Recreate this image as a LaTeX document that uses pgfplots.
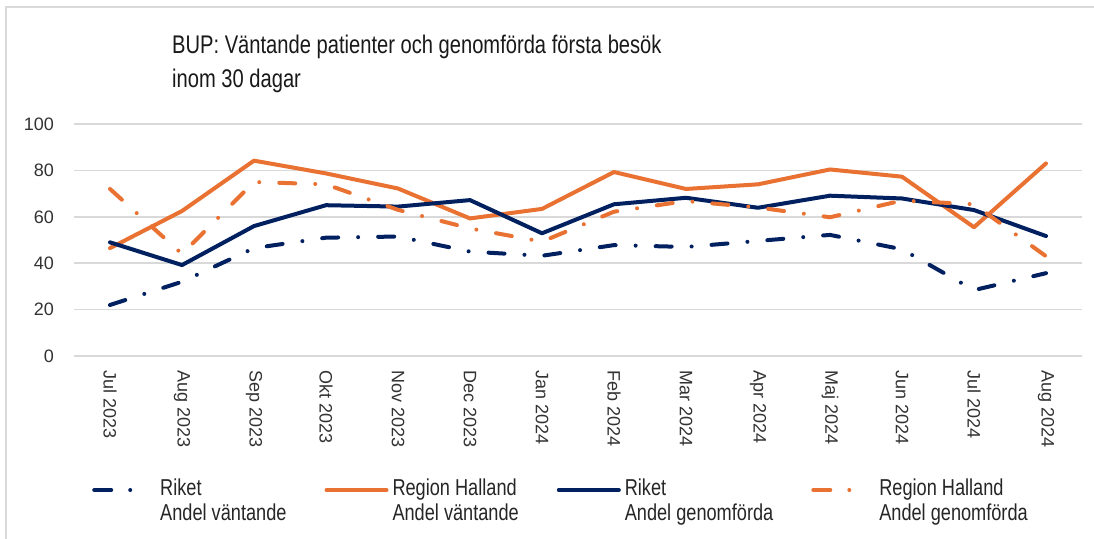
\documentclass[border=0pt]{standalone}
\usepackage{fontspec}
\setmainfont{Liberation Sans}
\newfontfamily\narrowfont[FakeStretch=0.79]{Liberation Sans}
\usepackage{pgfplots}
\pgfplotsset{compat=1.18}
\definecolor{hOrange}{HTML}{E97132}
\definecolor{hNavy}{HTML}{002060}
\definecolor{gridgray}{HTML}{D9D9D9}
\tikzset{
  dashdot/.style={dash pattern=on 16pt off 20pt on 0pt off 20pt},
  dashdotleg/.style={dash pattern=on 17pt off 19pt on 0pt off 80pt},
}

\begin{document}
\begin{tikzpicture}[x=1pt,y=1pt]
\useasboundingbox (0,0) rectangle (1094,-538);
\fill[white] (0,0) rectangle (1094,-538);
\draw[gridgray, line width=2pt] (6,-540) -- (6,-7) -- (1096,-7);
\node[anchor=base west, inner sep=0pt, font=\narrowfont\fontsize{25.5}{34}\selectfont, text=black!90] at (172,-53) {\vtop{\hbox{BUP: Väntande patienter och genomförda första besök}\hbox{inom 30 dagar}}};

\begin{axis}[
  at={(74pt,-356pt)}, anchor=south west,
  scale only axis, width=1008pt, height=232pt,
  xmin=-0.5, xmax=13.5, ymin=0, ymax=100,
  clip=false,
  axis line style={draw=none},
  major tick length=0pt,
  ytick={0,20,...,100},
  ymajorgrids,
  grid style={gridgray, line width=1.5pt},
  xtick={0,...,13},
  xticklabels={Jul 2023,Aug 2023,Sep 2023,Okt 2023,Nov 2023,Dec 2023,Jan 2024,Feb 2024,Mar 2024,Apr 2024,Maj 2024,Jun 2024,Jul 2024,Aug 2024},
  /pgf/number format/assume math mode=true,
  ticklabel style={font=\fontsize{18}{20}\selectfont, text=black!80},
  yticklabel style={anchor=east, inner sep=0pt, xshift=-20pt},
  xticklabel style={rotate=-90, anchor=west, inner sep=0pt, inner xsep=14pt},
  legend columns=4,
  legend style={draw=none, fill=none, inner sep=0pt,
    at={(axis description cs:0.0179,-0.52)}, anchor=north west,
    font=\narrowfont\fontsize{23}{25}\selectfont, text=black!85,
    cells={anchor=base west, inner sep=0pt},
    /tikz/every odd column/.append style={column sep=2pt},
    /tikz/every even column/.append style={column sep=36pt}},
  legend image code/.code={\draw[#1] (2pt,5.5pt) -- (62pt,5.5pt);},
  every axis plot/.append style={line width=4pt, line join=round, line cap=round},
]
\addlegendimage{hNavy, line width=4pt, line cap=round, dashdotleg}
\addlegendentry{\vtop{\hbox{Riket}\hbox{Andel väntande}}}
\addlegendimage{hOrange, line width=4pt, line cap=round}
\addlegendentry{\vtop{\hbox{Region Halland}\hbox{Andel väntande}}}
\addlegendimage{hNavy, line width=4pt, line cap=round}
\addlegendentry{\vtop{\hbox{Riket}\hbox{Andel genomförda}}}
\addlegendimage{hOrange, line width=4pt, line cap=round, dashdotleg}
\addlegendentry{\vtop{\hbox{Region Halland}\hbox{Andel genomförda}}}

\addplot[hNavy, dashdot, forget plot] coordinates {
(0,22) (1,32) (2,46.5) (3,51) (4,51.5) (5,45) (6,43.2) (7,47.8) (8,47) (9,49.6) (10,52.2) (11,46) (12,28.4) (13,35.7)};
\addplot[hOrange, forget plot] coordinates {
(0,46.5) (1,62.5) (2,84.2) (3,78.7) (4,72.2) (5,59.3) (6,63.4) (7,79.3) (8,72) (9,74) (10,80.4) (11,77.3) (12,55.5) (13,83)};
\addplot[hNavy, forget plot] coordinates {
(0,49) (1,39.2) (2,56) (3,65) (4,64.4) (5,67.2) (6,52.9) (7,65.4) (8,68.2) (9,63.9) (10,69.1) (11,67.9) (12,62.9) (13,51.7)};
\addplot[hOrange, dashdot, forget plot] coordinates {
(0,72) (1,44) (2,75) (3,74) (4,63) (5,55) (6,49.3) (7,62.2) (8,66.8) (9,64) (10,59.8) (11,67) (12,65.4) (13,43)};
\end{axis}
\end{tikzpicture}
\end{document}
